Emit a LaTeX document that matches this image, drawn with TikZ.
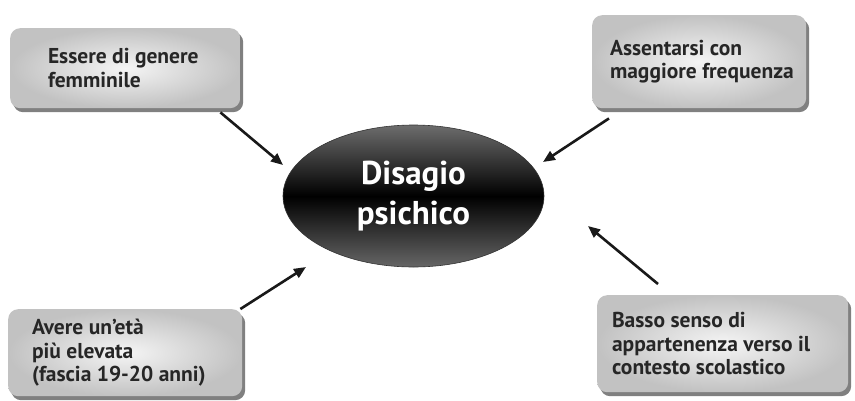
\documentclass[tikz,border=0pt]{standalone}
\usepackage{fontspec}
\setmainfont{PT Sans}
\usepackage{tikz}
\usetikzlibrary{positioning, arrows.meta, shapes.geometric, shadows}
\tikzset{
    factor/.style={rectangle, rounded corners=10pt, inner sep=0pt, anchor=north west,
        inner color=gray!8, outer color=gray!48,
        drop shadow={shadow xshift=3pt, shadow yshift=-4pt, fill=black!50, opacity=1}},
    factortext/.style={inner sep=0pt, outer sep=0pt, anchor=west, align=left, text=black!85,
        font=\bfseries\fontsize{21.5}{23.5}\selectfont},
    core/.style={ellipse, inner sep=0pt, minimum width=261pt, minimum height=142pt,
        draw=black!80, line width=0.6pt,
        top color=gray!85!black, bottom color=gray!80!black, middle color=black,
        text=white, align=center, font=\bfseries\fontsize{33}{40}\selectfont},
    arrow/.style={-{Triangle[length=12pt, width=10pt]}, line width=2.6pt, black!90}
}
\begin{document}
\begin{tikzpicture}[x=1pt, y=-1pt]
    \useasboundingbox (0,0) rectangle (855,400);

    % Central node
    \node[core] (dis) at (413.5,196) {Disagio\\psichico};

    % Factors
    \node[factor, minimum width=230pt, minimum height=80pt] (ess) at (10,28) {};
    \node[factortext, right=38pt of ess.west] (esstext) {Essere di genere\\femminile};

    \node[factor, minimum width=214pt, minimum height=93pt] (ass) at (592,15) {};
    \node[factortext, right=18pt of ass.west] (asstext) {Assentarsi con\\maggiore frequenza};

    \node[factor, minimum width=234pt, minimum height=87pt] (avr) at (8,309) {};
    \node[factortext, right=24pt of avr.west] (avrtext) {Avere un'età\\più elevata\\(fascia 19-20 anni)};

    \node[factor, minimum width=251pt, minimum height=97pt] (bas) at (597,295) {};
    \node[factortext, right=15pt of bas.west] (bastext) {Basso senso di\\appartenenza verso il\\contesto scolastico};

    % Arrows
    \draw[arrow] ([shift={(-20,4)}]ess.south east) -- ([shift={(-130.5,-31)}]dis.center);
    \draw[arrow] ([shift={(17,10)}]ass.south west) -- ([shift={(129.5,-34)}]dis.center);
    \draw[arrow] ([shift={(-2,0)}]avr.north east) -- ([shift={(-107.5,71)}]dis.center);
    \draw[arrow] ([shift={(61,-11)}]bas.north west) -- ([shift={(174.5,30)}]dis.center);
\end{tikzpicture}
\end{document}
